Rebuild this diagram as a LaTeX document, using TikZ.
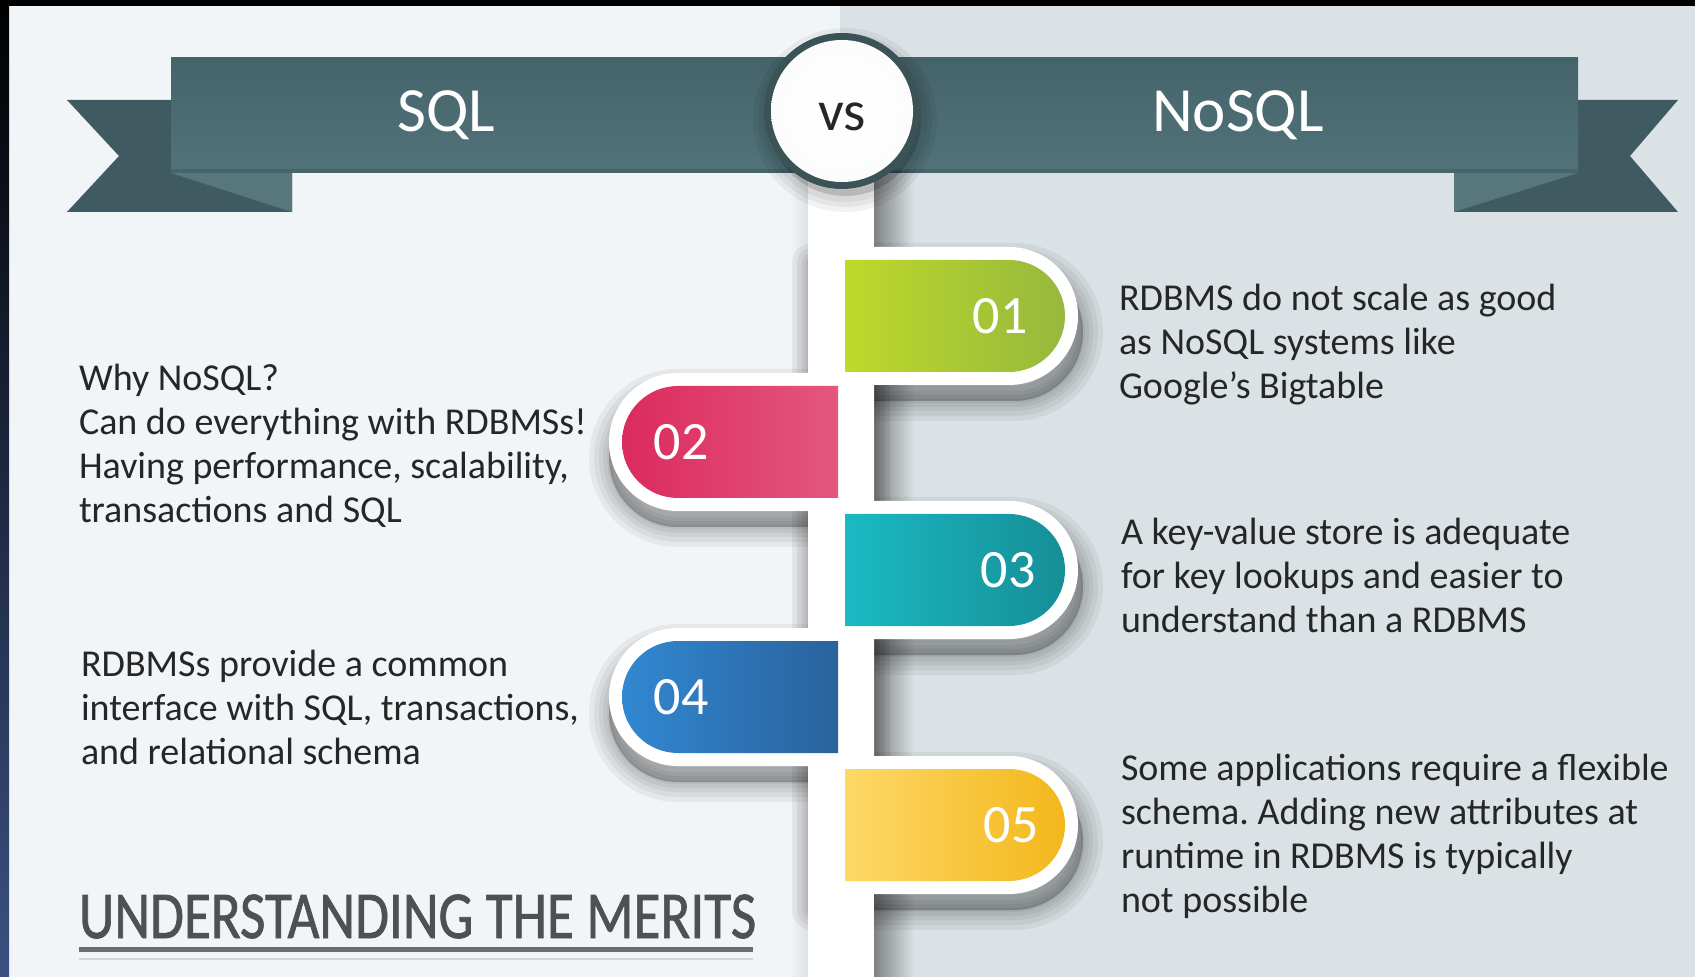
\documentclass[tikz,border=0pt]{standalone}
\usepackage{fontspec}
\usepackage{graphicx}
\setmainfont{Carlito}
\newfontfamily\titlefam[FakeBold=1.2]{Carlito}
\usetikzlibrary{fadings}
\frenchspacing

\definecolor{bgL}{HTML}{F2F5F8}
\definecolor{bgR}{HTML}{DBE2E5}
\definecolor{edgeblue}{HTML}{3B5182}
\definecolor{bannerTop}{HTML}{45636A}
\definecolor{bannerBot}{HTML}{52737A}
\definecolor{tailcol}{HTML}{3F5B61}
\definecolor{foldcol}{HTML}{57777D}
\definecolor{ringcol}{HTML}{3B5256}
\definecolor{bodytext}{HTML}{262626}
\definecolor{titlegrey}{HTML}{4E5052}
\definecolor{ruledark}{HTML}{6A6D70}
\definecolor{rulelight}{HTML}{D0D5D9}
% tab colours (left / right ends of each gradient)
\definecolor{gL}{HTML}{BED92A}\definecolor{gR}{HTML}{97B83D}
\definecolor{pL}{HTML}{DB2A5E}\definecolor{pR}{HTML}{E4577F}
\definecolor{tL}{HTML}{1ABAC3}\definecolor{tR}{HTML}{168E97}
\definecolor{bL}{HTML}{3188D1}\definecolor{bR}{HTML}{2A629D}
\definecolor{yL}{HTML}{FED868}\definecolor{yR}{HTML}{F3B71B}

\newcommand{\bodyfont}{\fontsize{19pt}{22pt}\selectfont}
\newcommand{\numfont}{\fontsize{27pt}{30pt}\selectfont}
\newcommand{\headfont}{\fontsize{31.5pt}{34pt}\selectfont}
\newcommand{\vsfont}{\fontsize{28.5pt}{30pt}\selectfont}
\newcommand{\titlefont}{\titlefam\fontsize{33.5pt}{36pt}\selectfont}

\tikzset{
  bodyblock/.style={anchor=base west, font=\bodyfont, text=bodytext},
  tabnum/.style={font=\numfont, text=white},
  headtext/.style={anchor=base, font=\headfont, text=white},
  softshadow/.style={black, opacity=0.05, line join=round},
}

\begin{document}
\begin{tikzpicture}[x=0.5pt, y=-0.5pt, every node/.style={inner sep=0pt, outer sep=0pt}]
\useasboundingbox (0,0) rectangle (1695,977);

% two background panels and the frame edges
\fill[bgL] (0,0) rectangle (840,977);
\fill[bgR] (840,0) rectangle (1695,977);
\fill[black] (0,0) rectangle (1695,6);
\shade[top color=black, bottom color=edgeblue] (0,0) rectangle (9,977);

% ribbon banner: tails, folds, band
\fill[tailcol] (67,100) -- (292,100) -- (292,212) -- (67,212) -- (119,156) -- cycle;
\fill[foldcol] (171,173) -- (292,173) -- (292,212) -- cycle;
\fill[tailcol] (1678,100) -- (1454,100) -- (1454,212) -- (1678,212) -- (1630,156) -- cycle;
\fill[foldcol] (1578,173) -- (1454,173) -- (1454,212) -- cycle;
\shade[top color=bannerTop, bottom color=bannerBot] (171,58) rectangle (1578,173);
\fill[black, opacity=0.12] (171,169) rectangle (1578,173);
\node[headtext] (sql) at (446,132) {SQL};
\node[headtext] (nosql) at (1238,132) {NoSQL};

% shadows cast by the pole
\fill[black, opacity=0.42, path fading=east] (874,170) rectangle (914,977);
\fill[black, opacity=0.08, path fading=west] (790,170) rectangle (808,977);

% soft shadows under the tabs
\foreach \c in {316,570,825}{
  \foreach \w in {20pt,15pt,10pt,6pt,2pt}{
    \filldraw[softshadow, line width=\w]
      (812,\c-53) -- (1014,\c-53) arc[start angle=-90, end angle=90, radius=69]
      -- (812,\c+85) -- cycle;
  }
}
\foreach \c in {442,697}{
  \foreach \w in {20pt,15pt,10pt,6pt,2pt}{
    \filldraw[softshadow, line width=\w]
      (870,\c-53) -- (678,\c-53) arc[start angle=-90, end angle=-270, radius=69]
      -- (870,\c+85) -- cycle;
  }
}

% the central pole
\fill[white] (808,150) rectangle (874,977);

% right-hand tabs 01, 03, 05
\foreach \c/\l/\r in {316/gL/gR, 570/tL/tR, 825/yL/yR}{
  \fill[white] (808,\c-69) -- (1009,\c-69) arc[start angle=-90, end angle=90, radius=69]
    -- (808,\c+69) -- cycle;
  \shade[left color=\l, right color=\r] (845,\c-56) -- (1009,\c-56)
    arc[start angle=-90, end angle=90, radius=56] -- (845,\c+56) -- cycle;
}
% left-hand tabs 02, 04
\foreach \c/\l/\r in {442/pL/pR, 697/bL/bR}{
  \fill[white] (874,\c-69) -- (678,\c-69) arc[start angle=-90, end angle=-270, radius=69]
    -- (874,\c+69) -- cycle;
  \shade[left color=\l, right color=\r] (838,\c-56) -- (678,\c-56)
    arc[start angle=-90, end angle=-270, radius=56] -- (838,\c+56) -- cycle;
}
\node[tabnum] (n01) at (1000,316) {01};
\node[tabnum] (n02) at (681,442) {02};
\node[tabnum] (n03) at (1008,570) {03};
\node[tabnum] (n04) at (681,697) {04};
\node[tabnum] (n05) at (1011,825) {05};

% the "vs" badge
\foreach \w in {16pt,11pt,6pt}{
  \filldraw[softshadow, line width=\w] (845,120) circle (76);
}
\fill[ringcol] (842,111) circle (78);
\shade[inner color=white, outer color=white!90!bgR] (842,111) circle (71);
\node[anchor=base, font=\vsfont, text=black!85] (vs) at (842,131) {vs};

% descriptions
\node[bodyblock] (d01) at (1119,311) {\begin{tabular}[t]{@{}l@{}}RDBMS do not scale as good\\as NoSQL systems like\\Google’s Bigtable\end{tabular}};
\node[bodyblock] (d02) at (79,391) {\begin{tabular}[t]{@{}l@{}}Why NoSQL?\\Can do everything with RDBMSs!\\Having performance, scalability,\\transactions and SQL\end{tabular}};
\node[bodyblock] (d03) at (1121,545) {\begin{tabular}[t]{@{}l@{}}A key-value store is adequate\\for key lookups and easier to\\understand than a RDBMS\end{tabular}};
\node[bodyblock] (d04) at (81,676) {\begin{tabular}[t]{@{}l@{}}RDBMSs provide a common\\interface with SQL, transactions,\\and relational schema\end{tabular}};
\node[bodyblock] (d05) at (1121,780) {\begin{tabular}[t]{@{}l@{}}Some applications require a flexible\\schema. Adding new attributes at\\runtime in RDBMS is typically\\not possible\end{tabular}};

% footer heading with its double rule
\node[anchor=base west, font=\titlefont, text=titlegrey] (title) at (79,938)
  {\scalebox{0.823}[1]{UNDERSTANDING THE MERITS}};
\draw[ruledark, line width=2.5pt] (79,949) -- (753,949);
\draw[rulelight, line width=1pt] (79,959) -- (753,959);
\end{tikzpicture}
\end{document}
